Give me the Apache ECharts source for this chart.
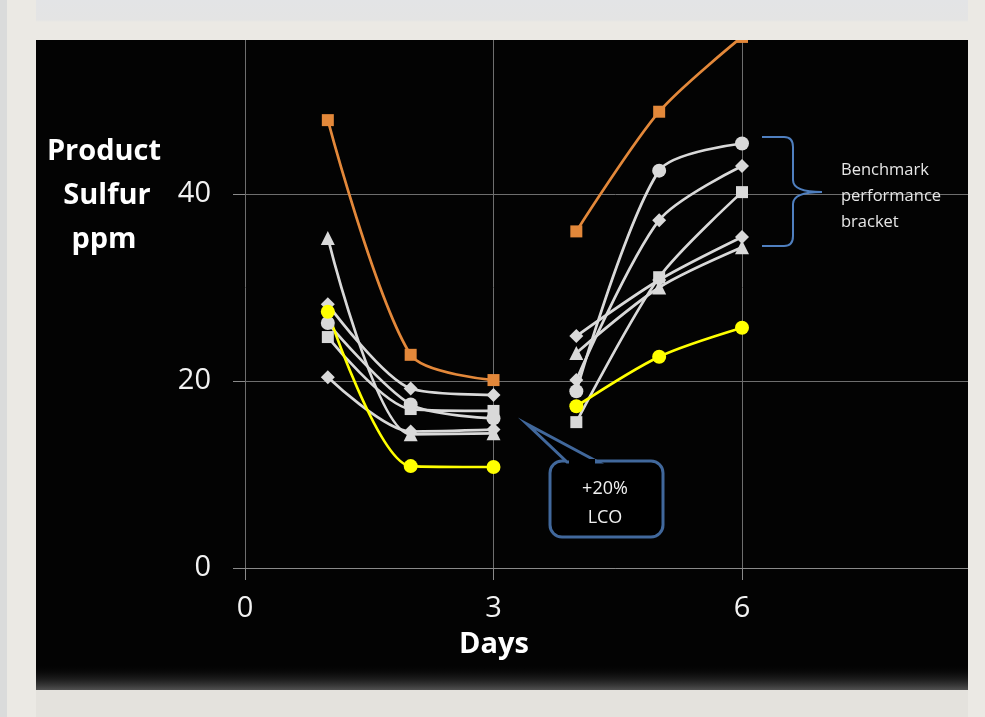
<!DOCTYPE html>
<html><head><meta charset="utf-8">
<script src="https://cdn.jsdelivr.net/npm/echarts@6/dist/echarts.min.js"></script>
<style>html,body{margin:0;padding:0;background:#ebe9e4;}#c{width:985px;height:717px;}</style>
</head><body><div id="c"></div>
<script>
const days = [1, 2, 3, 4, 5, 6];
const xTicks = [0, 3, 6];
const yTicks = [0, 20, 40];
const orange = [47.9, 22.8, 20.1, 36.0, 48.8, 56.8];
const yellow = [27.4, 10.9, 10.8, 17.3, 22.6, 25.7];
const grayTriangle = [35.3, 14.3, 14.4, 23.0, 30.0, 34.3];
const grayDiamondA = [28.2, 19.2, 18.5, 24.8, 30.8, 35.4];
const grayDiamondB = [20.4, 14.6, 14.8, 20.1, 37.2, 43.0];
const grayCircle = [26.2, 17.5, 16.0, 18.9, 42.5, 45.4];
const graySquare = [24.7, 17.0, 16.8, 15.6, 31.1, 40.2];

function toData(vals) {
  const out = [];
  days.forEach((d, i) => {
    out.push([d, vals[i]]);
    if (d === 3) out.push([3.5, '-']);
  });
  return out;
}
const FONT = '"Open Sans", Lato, sans-serif';
const GRAY = '#d9d9d9';
function mk(name, vals, color, symbol, size) {
  return {
    name, type: 'line', data: toData(vals), smooth: 0.28, connectNulls: false,
    symbol, symbolSize: size, showSymbol: true,
    lineStyle: { color, width: 2.7 }, itemStyle: { color },
    emphasis: { disabled: true }, clip: true
  };
}
const chart = echarts.init(document.getElementById('c'), null, { renderer: 'canvas' });
const frameC = '#ebe9e4';
const BL = '#4f7fbf';
function seg(x1, y1, x2, y2) {
  return { type: 'line', z: 110, shape: { x1, y1, x2, y2 }, style: { stroke: BL, lineWidth: 2 } };
}
function qc(x1, y1, cx, cy, x2, y2) {
  return { type: 'bezierCurve', z: 110, shape: { x1, y1, x2, y2, cpx1: cx, cpy1: cy }, style: { stroke: BL, lineWidth: 2, fill: null } };
}
chart.setOption({
  backgroundColor: '#030303',
  animation: false,
  grid: { left: 245, top: 7, width: 745.5, height: 561, containLabel: false, outerBoundsMode: 'none' },
  xAxis: {
    type: 'value', min: 0, max: 9, interval: 3,
    axisLine: { show: true, lineStyle: { color: '#8a8a8a', width: 1 } },
    axisTick: { show: true, length: 12, lineStyle: { color: '#8a8a8a' } },
    splitLine: { show: true, lineStyle: { color: '#6e6e6e', width: 1 } },
    axisLabel: { color: '#f2f2f2', fontFamily: FONT, fontSize: 29, margin: 26,
      formatter: v => xTicks.includes(v) ? String(v) : '' }
  },
  yAxis: {
    type: 'value', min: 0, max: 60, interval: 20,
    axisLine: { show: false },
    axisTick: { show: true, length: 12, lineStyle: { color: '#8a8a8a' } },
    splitLine: { show: true, lineStyle: { color: '#6e6e6e', width: 1 } },
    axisLabel: { color: '#f2f2f2', fontFamily: FONT, fontSize: 29, margin: 34,
      formatter: v => yTicks.includes(v) ? String(v) : '' }
  },
  series: [
    mk('Triangle', grayTriangle, GRAY, 'triangle', 14),
    mk('DiamondA', grayDiamondA, GRAY, 'diamond', 14),
    mk('DiamondB', grayDiamondB, GRAY, 'diamond', 14),
    mk('Circle', grayCircle, GRAY, 'circle', 14),
    mk('Square', graySquare, GRAY, 'rect', 12),
    mk('Orange', orange, '#e3883a', 'rect', 12),
    mk('Yellow', yellow, '#ffff00', 'circle', 14)
  ],
  graphic: [
    { type: 'rect', z: 90, shape: { x: 36, y: 664, width: 932, height: 26 },
      style: { fill: { type: 'linear', x: 0, y: 0, x2: 0, y2: 1, colorStops: [
        { offset: 0, color: 'rgba(0,0,0,0)' }, { offset: 1, color: 'rgba(90,90,90,0.9)' }] } } },
    { type: 'rect', z: 100, shape: { x: 0, y: 0, width: 985, height: 40 },
      style: { fill: { type: 'linear', x: 0, y: 0, x2: 0, y2: 1, colorStops: [
        { offset: 0, color: '#e3e4e6' }, { offset: 0.5, color: '#e4e4e4' }, { offset: 0.55, color: frameC }, { offset: 1, color: frameC }] } } },
    { type: 'rect', z: 100, shape: { x: 0, y: 690, width: 985, height: 27 }, style: { fill: '#e4e2dd' } },
    { type: 'rect', z: 100, shape: { x: 0, y: 0, width: 36, height: 717 }, style: { fill: frameC } },
    { type: 'rect', z: 101, shape: { x: 0, y: 0, width: 7, height: 717 }, style: { fill: '#dadbdb' } },
    { type: 'rect', z: 100, shape: { x: 968, y: 0, width: 17, height: 717 }, style: { fill: frameC } },
    { type: 'text', z: 110, style: { x: 104, y: 152, text: 'Product', fill: '#fff',
      font: 'bold 29px ' + FONT, align: 'center', verticalAlign: 'middle' } },
    { type: 'text', z: 110, style: { x: 107, y: 196, text: 'Sulfur', fill: '#fff',
      font: 'bold 29px ' + FONT, align: 'center', verticalAlign: 'middle' } },
    { type: 'text', z: 110, style: { x: 104, y: 240, text: 'ppm', fill: '#fff',
      font: 'bold 29px ' + FONT, align: 'center', verticalAlign: 'middle' } },
    { type: 'text', z: 110, style: { x: 494, y: 645, text: 'Days', fill: '#fff',
      font: 'bold 29px ' + FONT, align: 'center', verticalAlign: 'middle' } },
    seg(762, 137, 784, 137), qc(784, 137, 793, 137, 793, 147), seg(793, 147, 793, 180),
    qc(793, 180, 793, 192, 822, 192), qc(822, 192, 793, 192, 793, 204), seg(793, 204, 793, 236),
    qc(793, 236, 793, 246, 784, 246), seg(784, 246, 762, 246),
    { type: 'text', z: 110, style: { x: 841, y: 170, text: 'Benchmark', fill: '#e6e6e6', font: '16.5px ' + FONT, verticalAlign: 'middle' } },
    { type: 'text', z: 110, style: { x: 841, y: 196, text: 'performance', fill: '#e6e6e6', font: '16.5px ' + FONT, verticalAlign: 'middle' } },
    { type: 'text', z: 110, style: { x: 841, y: 222, text: 'bracket', fill: '#e6e6e6', font: '16.5px ' + FONT, verticalAlign: 'middle' } },
    { type: 'rect', z: 110, shape: { x: 550, y: 461, width: 113, height: 76, r: 12 },
      style: { stroke: '#41689c', lineWidth: 3, fill: '#000' } },
    { type: 'polygon', z: 111, shape: { points: [[567, 462], [527, 424], [598, 462]] },
      style: { stroke: '#41689c', lineWidth: 3, fill: '#000', lineJoin: 'miter' } },
    { type: 'rect', z: 112, shape: { x: 569, y: 459, width: 26, height: 6 }, style: { fill: '#000' } },
    { type: 'text', z: 113, style: { x: 605, y: 489, text: '+20%', fill: '#f0f0f0', font: '18px ' + FONT, align: 'center', verticalAlign: 'middle' } },
    { type: 'text', z: 113, style: { x: 605, y: 518, text: 'LCO', fill: '#f0f0f0', font: '18px ' + FONT, align: 'center', verticalAlign: 'middle' } }
  ]
});
</script></body></html>
